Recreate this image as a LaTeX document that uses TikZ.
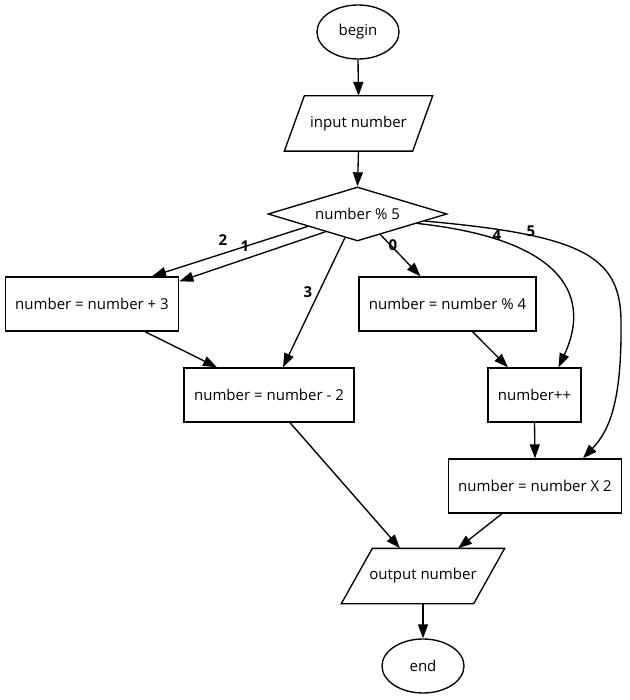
\documentclass[tikz,border=0pt]{standalone}
\usepackage{fontspec}
\setmainfont{Open Sans}
\usetikzlibrary{arrows.meta, positioning, calc, shapes.geometric}

\begin{document}
\begin{tikzpicture}[x=1pt, y=-1pt, line width=1.35pt,
  font=\fontsize{15}{18}\selectfont,
  >={Triangle[length=14pt, width=10pt]},
  terminal/.style={draw, ellipse, minimum width=82pt, minimum height=54pt, inner sep=0pt},
  io/.style={rectangle, minimum height=54pt, inner sep=0pt},
  decision/.style={draw, diamond, aspect=3.3, inner sep=0pt, minimum width=179pt, minimum height=54pt},
  process/.style={draw, rectangle, inner xsep=10pt, minimum height=54pt},
  lbl/.style={font=\fontsize{15}{18}\selectfont\bfseries}]
  \useasboundingbox (0,0) rectangle (629,700);
  % nodes
  \node[terminal] (start) at (358,32) {begin};
  \node[io, minimum width=147pt] (inp) at (358.5,123.5) {input number};
  \node[decision] (mod) at (357.5,214) {number \% 5};
  \node[process] (add) at (92,304) {number = number + 3};
  \node[process] (rem) at (447.5,304) {number = number \% 4};
  \node[process] (sub) at (269,395) {number = number - 2};
  \node[process] (inc) at (534.5,395) {number++};
  \node[process] (dbl) at (535,486) {number = number X 2};
  \node[io, minimum width=162pt] (outp) at (423,576) {output number};
  \node[terminal] (stop) at (423,666) {end};
  % parallelograms
  \draw (inp.south west) -- ($(inp.north west)+(20,0)$) -- (inp.north east)
    -- ($(inp.south east)+(-20,0)$) -- cycle;
  \draw (outp.south west) -- ($(outp.north west)+(31,0)$) -- (outp.north east)
    -- ($(outp.south east)+(-31,0)$) -- cycle;
  % main flow
  \draw[->] (start.south) -- (inp.north);
  \draw[->] (inp.south) -- (mod.north);
  % cases
  \draw[->] (mod.194) -- ($(add.north)+(60,0)$);
  \draw[->] (mod.209) -- ($(add.north east)+(0,5)$);
  \draw[->] (mod.242) -- ($(sub.north)+(14,0)$);
  \draw[->] (mod.318) -- ($(rem.north)+(-27,0)$);
  \draw[->] (mod.351) .. controls (570,240) and (590,300) .. ($(inc.north)+(24,0)$);
  \draw[->] (mod.354) .. controls (580,235) and (620,255) .. (621,320)
    .. controls (622,400) and (610,430) .. ($(dbl.north)+(48,0)$);
  % fall through
  \draw[->] ($(add.south)+(53,0)$) -- ($(sub.north)+(-52,0)$);
  \draw[->] ($(rem.south)+(25,0)$) -- ($(inc.north)+(-26.5,0)$);
  \draw[->] (inc.south) -- (dbl.north);
  \draw[->] ($(sub.south)+(21,0)$) -- ($(outp.north)+(-23,0)$);
  \draw[->] ($(dbl.south)+(-33,0)$) -- ($(outp.north)+(35,0)$);
  \draw[->] (outp.south) -- (stop.north);
  % case labels
  \node[lbl] (l2) at (223,240) {2};
  \node[lbl] (l1) at (245,246) {1};
  \node[lbl] (l3) at (308,292) {3};
  \node[lbl] (l0) at (393,245) {0};
  \node[lbl] (l4) at (497,235) {4};
  \node[lbl] (l5) at (531,231) {5};
\end{tikzpicture}
\end{document}
